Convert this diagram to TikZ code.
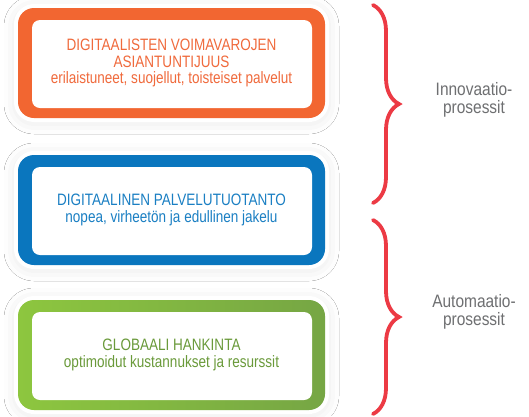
\documentclass[tikz,border=0pt]{standalone}
\usepackage{fontspec}
\newfontfamily\condfont{Liberation Sans}[FakeStretch=0.82]
\newfontfamily\sidefont{Liberation Sans}[FakeStretch=0.86]
\usetikzlibrary{positioning,decorations.pathreplacing,shadows.blur}

\definecolor{orangebar}{HTML}{F26631}
\definecolor{orangetxt}{HTML}{F06A3C}
\definecolor{bluebar}{HTML}{0A76BE}
\definecolor{bluetxt}{HTML}{1A7FC3}
\definecolor{greenleft}{HTML}{8DC63F}
\definecolor{greenright}{HTML}{76A644}
\definecolor{greentxt}{HTML}{6A9A3A}
\definecolor{bracered}{HTML}{EC3A44}
\definecolor{sidegray}{HTML}{6E6F71}

\begin{document}
\begin{tikzpicture}[
  x=1pt, y=-1pt,
  panel/.style n args={3}{rectangle, rounded corners=16pt, inner sep=0pt,
    minimum width=307pt, minimum height=110pt, align=center,
    left color=#1, right color=#2, text=#3,
    font=\condfont\fontsize{16.5}{16.5}\selectfont,
    blur shadow={shadow xshift=0pt, shadow yshift=-2pt, shadow blur radius=14pt, shadow opacity=12},
    preaction={draw=white, line width=8pt},
    path picture={\fill[white, rounded corners=8pt]
      ([xshift=14pt,yshift=-12pt]path picture bounding box.north west) rectangle
      ([xshift=-13pt,yshift=10pt]path picture bounding box.south east);}},
  curly/.style={draw=bracered, line width=3.8pt, line cap=round,
    decorate, decoration={brace, amplitude=26pt}},
  side/.style={align=center, text=sidegray, inner sep=0pt,
    font=\sidefont\fontsize{18}{18.5}\selectfont}
]
\useasboundingbox[fill=white] (0,0) rectangle (529,416);

% boxes
\node[panel={orangebar}{orangebar}{orangetxt}] (expert) at (171.5,63)
  {DIGITAALISTEN VOIMAVAROJEN\\ASIANTUNTIJUUS\\erilaistuneet, suojellut, toisteiset palvelut};
\node[panel={bluebar}{bluebar}{bluetxt}] (production) at (171.5,210)
  {DIGITAALINEN PALVELUTUOTANTO\\nopea, virheetön ja edullinen jakelu};
\node[panel={greenleft}{greenright}{greentxt}] (sourcing) at (171.5,355)
  {GLOBAALI HANKINTA\\optimoidut kustannukset ja resurssit};

% braces
\coordinate (innovtop) at (373,5);
\coordinate (innovbot) at (373,203);
\coordinate (automtop) at (373,220);
\coordinate (autombot) at (373,414);
\draw[curly] (innovtop) -- (innovbot);
\draw[curly] (automtop) -- (autombot);

\node[side] (innov) at (474,100) {Innovaatio-\\prosessit};
\node[side] (autom) at (474,312) {Automaatio-\\prosessit};
\end{tikzpicture}
\end{document}
